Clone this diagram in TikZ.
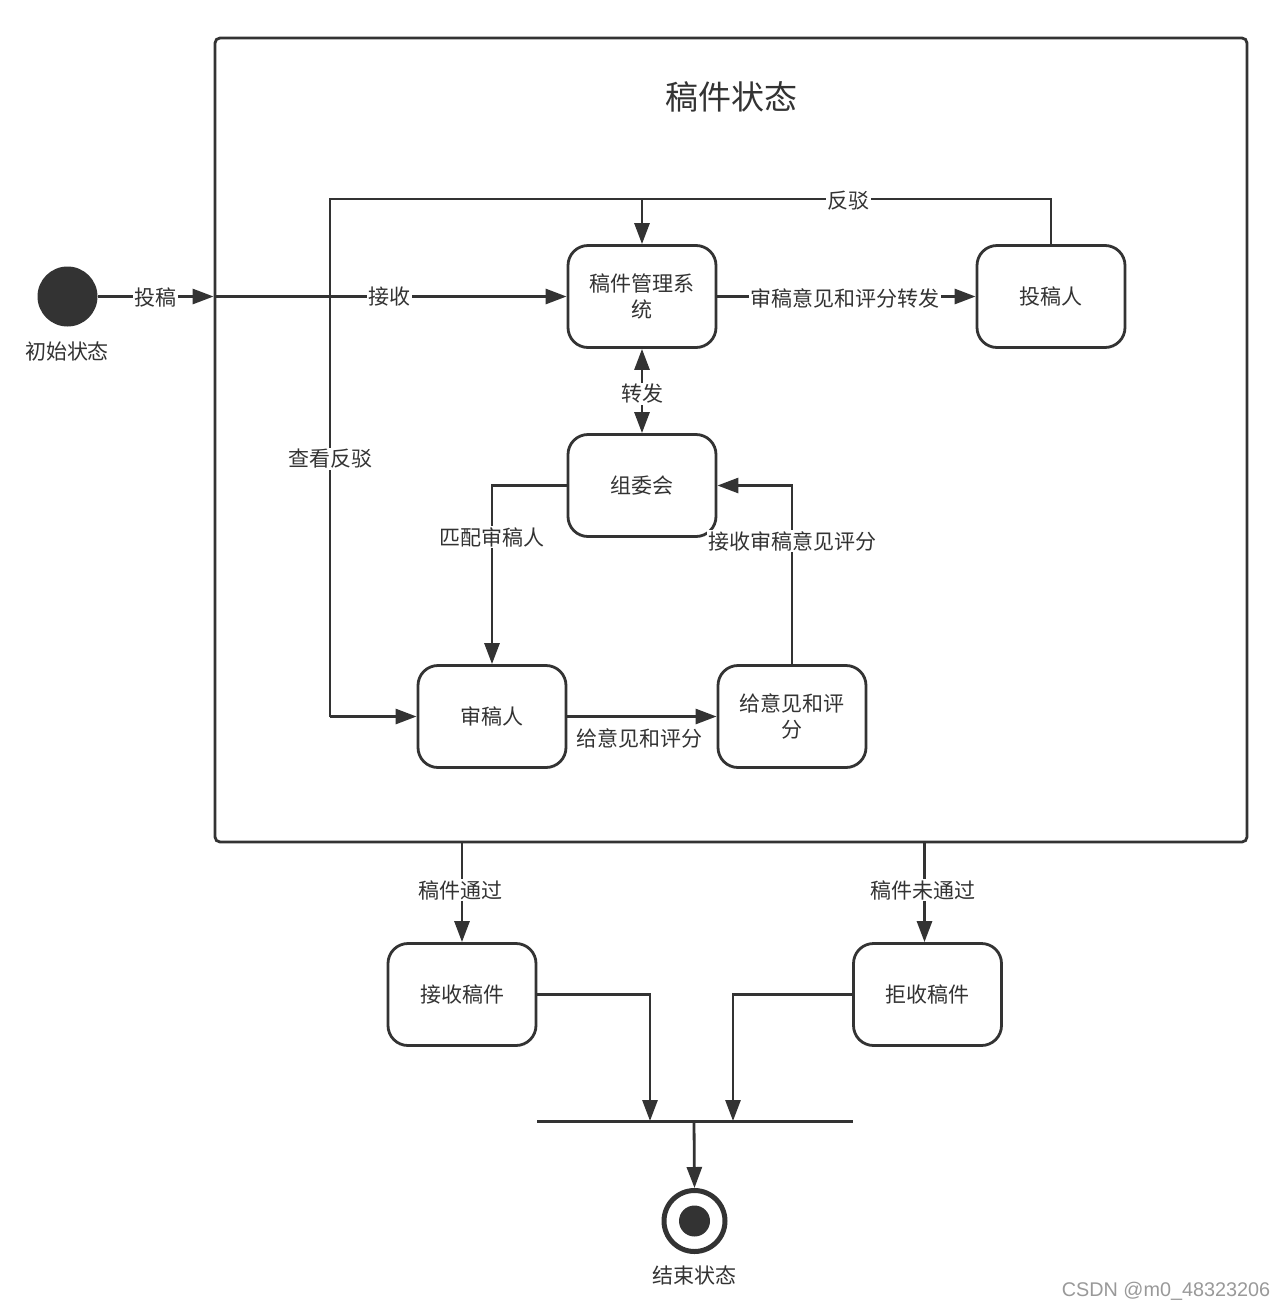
\documentclass[tikz,border=0pt]{standalone}
\usepackage{fontspec}
\setmainfont{Noto Sans CJK SC}
\newfontfamily\wmfont{Liberation Sans}
\usetikzlibrary{arrows.meta}
\definecolor{ink}{HTML}{333333}
\begin{document}
\begin{tikzpicture}[x=1pt,y=-1pt,
  every node/.style={text=ink},
  statebox/.style={draw=ink, line width=2.8pt, rounded corners=20pt, minimum width=148pt, minimum height=102pt, align=center, font=\fontsize{21}{26}\selectfont, inner sep=0pt},
  conn/.style={draw=ink, line width=2.8pt},
  arr/.style={conn, -{Triangle[length=21pt,width=15pt]}},
  darr/.style={conn, {Triangle[length=21pt,width=15pt]}-{Triangle[length=21pt,width=15pt]}},
  lbl/.style={fill=white, inner sep=1.5pt, font=\fontsize{21}{24}\selectfont},
  plainlbl/.style={inner sep=1.5pt, font=\fontsize{21}{24}\selectfont}
]
\useasboundingbox[fill=white] (0,0) rectangle (1284,1310);

% outer composite state
\node[draw=ink, line width=2.8pt, rounded corners=5pt, minimum width=1032pt, minimum height=804pt, inner sep=0pt] (frame) at (731,440) {};
\node[font=\fontsize{33}{38}\selectfont] (title) at (731,97) {稿件状态};

% initial state
\node[circle, fill=ink, minimum size=60pt, inner sep=0pt] (init) at (67.5,296.5) {};
\node[plainlbl] (initlbl) at (67,351) {初始状态};

% states
\node[statebox] (sys) at (642,296.5) {稿件管理系\\统};
\node[statebox] (author) at (1051,296.5) {投稿人};
\node[statebox] (com) at (642,485.5) {组委会};
\node[statebox] (reviewer) at (492,716.5) {审稿人};
\node[statebox] (give) at (792,716.5) {给意见和评\\分};
\node[statebox] (accept) at (462,994.5) {接收稿件};
\node[statebox] (reject) at (927.5,994.5) {拒收稿件};

% helper coordinates
\coordinate (entry) at (frame.west |- init);
\coordinate (topleft) at (330,199);
\coordinate (j1) at (650,1121);
\coordinate (j2) at (733,1121);
\coordinate (jm) at (694,1121);

% join bar
\node[fill=ink, minimum width=316pt, minimum height=3pt, inner sep=0pt] (bar) at (695,1121) {};

% final state
\node[circle, draw=ink, line width=5pt, minimum size=61pt, inner sep=0pt] (final) at (694.5,1221) {};
\fill[ink] (final.center) circle (15.5pt);
\node[plainlbl] (finallbl) at (694,1275) {结束状态};

% connectors
\draw[arr] (init) -- (entry);
\draw[arr] (entry) -- (sys.west);
\draw[arr] (sys.east) -- (author.west);
\draw[conn] (author.north) |- (topleft) -- (topleft |- reviewer.west);
\draw[arr] (topleft |- reviewer.west) -- (reviewer.west);
\draw[arr] (sys.north |- topleft) -- (sys.north);
\draw[darr] (sys.south) -- (com.north);
\draw[arr] (com.west) -| (reviewer.north);
\draw[arr] (reviewer.east) -- (give.west);
\draw[arr] (give.north) |- (com.east);
\draw[arr] (accept.north |- frame.south) -- (accept.north);
\draw[arr] ([xshift=-3pt]reject.north |- frame.south) -- ([xshift=-3pt]reject.north);
\draw[arr] (accept.east) -| (j1);
\draw[arr] (reject.west) -| (j2);
\draw[arr] (jm) -- (final.north);

% labels
\node[lbl] (l1) at (155,297) {投稿};
\node[lbl] (l2) at (389,297) {接收};
\node[lbl] (l3) at (845,298) {审稿意见和评分转发};
\node[lbl] (l4) at (848,201) {反驳};
\node[lbl] (l5) at (330,459) {查看反驳};
\node[lbl] (l6) at (642,394) {转发};
\node[lbl] (l7) at (492,537) {匹配审稿人};
\node[lbl] (l8) at (792,541) {接收审稿意见评分};
\node[plainlbl] (l9) at (639,738) {给意见和评分};
\node[lbl] (l10) at (460,890) {稿件通过};
\node[lbl] (l11) at (923,890) {稿件未通过};

% watermark
\node[text=black!40, font=\wmfont\fontsize{19.8}{22}\selectfont, inner sep=0pt] (wm) at (1166,1291) {CSDN @m0\_48323206};
\end{tikzpicture}
\end{document}
